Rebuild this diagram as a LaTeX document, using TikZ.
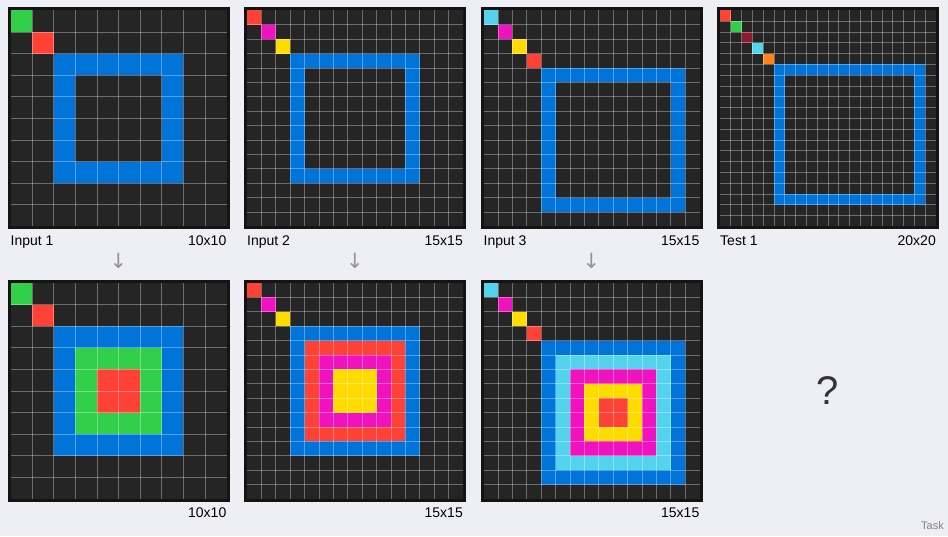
\documentclass[tikz,border=0pt]{standalone}
\usepackage{fontspec}
\setmainfont{Liberation Sans}
\newfontfamily\arrowfont{DejaVu Sans}
\usepackage{tikz}
\definecolor{pagebg}{RGB}{238,238,245}
\definecolor{rimblack}{RGB}{20,20,20}
\definecolor{cellbg}{RGB}{37,37,37}
\definecolor{arcblue}{RGB}{0,116,217}
\definecolor{arcred}{RGB}{255,65,54}
\definecolor{arcgreen}{RGB}{50,208,74}
\definecolor{arcyellow}{RGB}{255,220,0}
\definecolor{arcmagenta}{RGB}{240,18,190}
\definecolor{arccyan}{RGB}{84,211,236}
\definecolor{arcorange}{RGB}{255,133,27}
\definecolor{arcmaroon}{RGB}{140,26,48}
\definecolor{arrowgray}{RGB}{150,150,150}
\definecolor{taskgray}{RGB}{130,130,130}

\tikzset{
  lbl/.style={font=\fontsize{14}{16}\selectfont, inner sep=0pt, text=black},
  gridline/.style={white, opacity=0.33, line width=0.8pt},
  downarrow/.style={font=\arrowfont\fontsize{21}{23}\selectfont, text=arrowgray, inner sep=0pt},
}

% one grid panel: left, top, cells per side, coloured cells
\newcommand{\arcpanel}[4]{%
  \begin{scope}[shift={(#1,#2)}]
    \fill[rimblack] (-3,-3) rectangle (219,219);
    \fill[cellbg] (0,0) rectangle (216,216);
  \end{scope}
  \pgfmathsetmacro{\cellsz}{216/#3}
  \pgfmathtruncatemacro{\lastline}{#3-1}
  \begin{scope}[shift={(#1,#2)}, x=\cellsz pt, y=-\cellsz pt]
    #4
    \foreach \k in {1,...,\lastline} {
      \draw[gridline] (\k,0) -- (\k,#3);
      \draw[gridline] (0,\k) -- (#3,\k);
    }
  \end{scope}
}
\newcommand{\arccell}[3]{\fill[#1] (#2,#3) rectangle ++(1,1);}
\newcommand{\arcblock}[5]{\fill[#1] (#2,#3) rectangle (#4,#5);}

\begin{document}
\begin{tikzpicture}[x=1pt,y=-1pt]
  \fill[pagebg] (0,0) rectangle (948,536);

  % inputs and test
  \arcpanel{10.5}{10.3}{10}{%
    \arccell{arcgreen}{0}{0} \arccell{arcred}{1}{1}
    \arcblock{arcblue}{2}{2}{8}{8} \arcblock{cellbg}{3}{3}{7}{7}}
  \arcpanel{247}{10.3}{15}{%
    \arccell{arcred}{0}{0} \arccell{arcmagenta}{1}{1} \arccell{arcyellow}{2}{2}
    \arcblock{arcblue}{3}{3}{12}{12} \arcblock{cellbg}{4}{4}{11}{11}}
  \arcpanel{483.5}{10.3}{15}{%
    \arccell{arccyan}{0}{0} \arccell{arcmagenta}{1}{1} \arccell{arcyellow}{2}{2}
    \arccell{arcred}{3}{3}
    \arcblock{arcblue}{4}{4}{14}{14} \arcblock{cellbg}{5}{5}{13}{13}}
  \arcpanel{720}{10.3}{20}{%
    \arccell{arcred}{0}{0} \arccell{arcgreen}{1}{1} \arccell{arcmaroon}{2}{2}
    \arccell{arccyan}{3}{3} \arccell{arcorange}{4}{4}
    \arcblock{arcblue}{5}{5}{19}{18} \arcblock{cellbg}{6}{6}{18}{17}}

  % outputs
  \arcpanel{10.5}{283}{10}{%
    \arccell{arcgreen}{0}{0} \arccell{arcred}{1}{1}
    \arcblock{arcblue}{2}{2}{8}{8} \arcblock{arcgreen}{3}{3}{7}{7}
    \arcblock{arcred}{4}{4}{6}{6}}
  \arcpanel{247}{283}{15}{%
    \arccell{arcred}{0}{0} \arccell{arcmagenta}{1}{1} \arccell{arcyellow}{2}{2}
    \arcblock{arcblue}{3}{3}{12}{12} \arcblock{arcred}{4}{4}{11}{11}
    \arcblock{arcmagenta}{5}{5}{10}{10} \arcblock{arcyellow}{6}{6}{9}{9}}
  \arcpanel{483.5}{283}{15}{%
    \arccell{arccyan}{0}{0} \arccell{arcmagenta}{1}{1} \arccell{arcyellow}{2}{2}
    \arccell{arcred}{3}{3}
    \arcblock{arcblue}{4}{4}{14}{14} \arcblock{arccyan}{5}{5}{13}{13}
    \arcblock{arcmagenta}{6}{6}{12}{12} \arcblock{arcyellow}{7}{7}{11}{11}
    \arcblock{arcred}{8}{8}{10}{10}}

  % labels
  \node[lbl, anchor=base west] (inA) at (10.5,245) {Input 1};
  \node[lbl, anchor=base east] (inAsize) at (226.5,245) {10x10};
  \node[lbl, anchor=base west] (inB) at (247,245) {Input 2};
  \node[lbl, anchor=base east] (inBsize) at (463,245) {15x15};
  \node[lbl, anchor=base west] (inC) at (483.5,245) {Input 3};
  \node[lbl, anchor=base east] (inCsize) at (699.5,245) {15x15};
  \node[lbl, anchor=base west] (testA) at (720,245) {Test 1};
  \node[lbl, anchor=base east] (testAsize) at (936,245) {20x20};
  \node[lbl, anchor=base east] (outAsize) at (226.5,517.5) {10x10};
  \node[lbl, anchor=base east] (outBsize) at (463,517.5) {15x15};
  \node[lbl, anchor=base east] (outCsize) at (699.5,517.5) {15x15};

  \node[downarrow] (stepA) at (118.5,261) {↓};
  \node[downarrow] (stepB) at (355,261) {↓};
  \node[downarrow] (stepC) at (591.5,261) {↓};

  \node[font=\fontsize{40}{42}\selectfont, text=black!80, inner sep=0pt] (unknown) at (828,391) {?};
  \node[font=\fontsize{11}{13}\selectfont, text=taskgray, anchor=base east, inner sep=0pt] (task) at (944,529) {Task};
\end{tikzpicture}
\end{document}
